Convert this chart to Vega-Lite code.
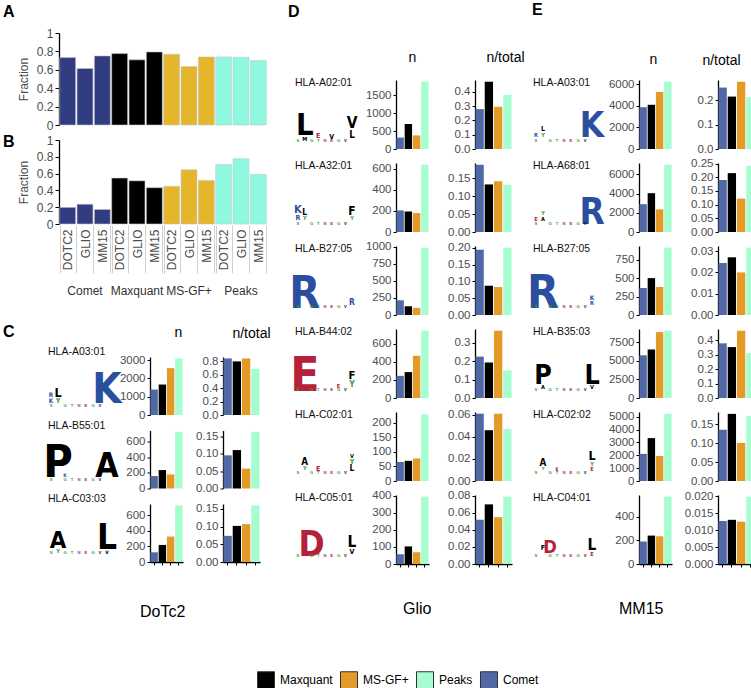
{
"$schema":"https://vega.github.io/schema/vega-lite/v6.json",
"padding":{"left":3,"top":2,"right":0,"bottom":0},
"background":"white",
"bounds":"flush",
"spacing":234,
"config":{
"view":{"stroke":null},
"font":"Liberation Sans",
"axis":{"domainColor":"#000","domainWidth":1.3,"tickColor":"#000","tickSize":3,"tickWidth":1,"labelColor":"#4d4d4d","labelFontSize":11.5,"labelFont":"Liberation Sans","labelPadding":2,"grid":false},
"scale":{"bandPaddingInner":0.1,"bandPaddingOuter":0.05},
"range":{"category":["#000000","#e39a26","#a6fdd0","#5069a5"]},
"title":{"font":"Liberation Sans","fontSize":14,"fontWeight":"normal","color":"#000"},
"legend":{"orient":"none","legendX":198,"legendY":638,"direction":"horizontal","symbolType":"square","symbolSize":289,"symbolStrokeColor":"#333","symbolStrokeWidth":1,"symbolOpacity":1,"labelFontSize":12,"labelColor":"#000","labelOffset":5,"columnPadding":5,"labelFont":"Liberation Sans"}
},
"datasets":{
"ab":[
{"p":"A","t":"Comet","s":"DOTC2","v":0.733},{"p":"A","t":"Comet","s":"GLIO","v":0.614},{"p":"A","t":"Comet","s":"MM15","v":0.751},
{"p":"A","t":"Maxquant","s":"DOTC2","v":0.776},{"p":"A","t":"Maxquant","s":"GLIO","v":0.708},{"p":"A","t":"Maxquant","s":"MM15","v":0.794},
{"p":"A","t":"MS-GF+","s":"DOTC2","v":0.769},{"p":"A","t":"MS-GF+","s":"GLIO","v":0.635},{"p":"A","t":"MS-GF+","s":"MM15","v":0.740},
{"p":"A","t":"Peaks","s":"DOTC2","v":0.740},{"p":"A","t":"Peaks","s":"GLIO","v":0.736},{"p":"A","t":"Peaks","s":"MM15","v":0.700},
{"p":"B","t":"Comet","s":"DOTC2","v":0.198},{"p":"B","t":"Comet","s":"GLIO","v":0.235},{"p":"B","t":"Comet","s":"MM15","v":0.173},
{"p":"B","t":"Maxquant","s":"DOTC2","v":0.547},{"p":"B","t":"Maxquant","s":"GLIO","v":0.514},{"p":"B","t":"Maxquant","s":"MM15","v":0.432},
{"p":"B","t":"MS-GF+","s":"DOTC2","v":0.449},{"p":"B","t":"MS-GF+","s":"GLIO","v":0.646},{"p":"B","t":"MS-GF+","s":"MM15","v":0.519},
{"p":"B","t":"Peaks","s":"DOTC2","v":0.708},{"p":"B","t":"Peaks","s":"GLIO","v":0.778},{"p":"B","t":"Peaks","s":"MM15","v":0.590}
],
"bars":[
{"g":"C1","m":"Comet","n":1390,"f":0.839},{"g":"C1","m":"Maxquant","n":1665,"f":0.795},{"g":"C1","m":"MS-GF+","n":2560,"f":0.839},{"g":"C1","m":"Peaks","n":3090,"f":0.682},
{"g":"C2","m":"Comet","n":159,"f":0.095},{"g":"C2","m":"Maxquant","n":236,"f":0.110},{"g":"C2","m":"MS-GF+","n":180,"f":0.057},{"g":"C2","m":"Peaks","n":724,"f":0.162},
{"g":"C3","m":"Comet","n":125,"f":0.074},{"g":"C3","m":"Maxquant","n":220,"f":0.102},{"g":"C3","m":"MS-GF+","n":328,"f":0.107},{"g":"C3","m":"Peaks","n":730,"f":0.160},
{"g":"D1","m":"Comet","n":320,"f":0.28},{"g":"D1","m":"Maxquant","n":700,"f":0.472},{"g":"D1","m":"MS-GF+","n":380,"f":0.296},{"g":"D1","m":"Peaks","n":1883,"f":0.38},
{"g":"D2","m":"Comet","n":205,"f":0.188},{"g":"D2","m":"Maxquant","n":195,"f":0.133},{"g":"D2","m":"MS-GF+","n":180,"f":0.142},{"g":"D2","m":"Peaks","n":640,"f":0.132},
{"g":"D3","m":"Comet","n":215,"f":0.194},{"g":"D3","m":"Maxquant","n":128,"f":0.087},{"g":"D3","m":"MS-GF+","n":105,"f":0.083},{"g":"D3","m":"Peaks","n":985,"f":0.200},
{"g":"D4","m":"Comet","n":245,"f":0.225},{"g":"D4","m":"Maxquant","n":287,"f":0.193},{"g":"D4","m":"MS-GF+","n":467,"f":0.366},{"g":"D4","m":"Peaks","n":745,"f":0.150},
{"g":"D5","m":"Comet","n":65,"f":0.061},{"g":"D5","m":"Maxquant","n":69,"f":0.046},{"g":"D5","m":"MS-GF+","n":77,"f":0.061},{"g":"D5","m":"Peaks","n":228,"f":0.047},
{"g":"D6","m":"Comet","n":57,"f":0.052},{"g":"D6","m":"Maxquant","n":103,"f":0.070},{"g":"D6","m":"MS-GF+","n":69,"f":0.055},{"g":"D6","m":"Peaks","n":394,"f":0.079},
{"g":"E1","m":"Comet","n":3885,"f":0.252},{"g":"E1","m":"Maxquant","n":4107,"f":0.215},{"g":"E1","m":"MS-GF+","n":5305,"f":0.276},{"g":"E1","m":"Peaks","n":6253,"f":0.213},
{"g":"E2","m":"Comet","n":2893,"f":0.190},{"g":"E2","m":"Maxquant","n":4036,"f":0.215},{"g":"E2","m":"MS-GF+","n":2357,"f":0.122},{"g":"E2","m":"Peaks","n":7000,"f":0.242},
{"g":"E3","m":"Comet","n":366,"f":0.0244},{"g":"E3","m":"Maxquant","n":500,"f":0.0271},{"g":"E3","m":"MS-GF+","n":380,"f":0.0200},{"g":"E3","m":"Peaks","n":912,"f":0.0316},
{"g":"E4","m":"Comet","n":5755,"f":0.378},{"g":"E4","m":"Maxquant","n":6538,"f":0.352},{"g":"E4","m":"MS-GF+","n":8886,"f":0.465},{"g":"E4","m":"Peaks","n":9070,"f":0.311},
{"g":"E5","m":"Comet","n":2107,"f":0.136},{"g":"E5","m":"Maxquant","n":3333,"f":0.178},{"g":"E5","m":"MS-GF+","n":1947,"f":0.101},{"g":"E5","m":"Peaks","n":5227,"f":0.172},
{"g":"E6","m":"Comet","n":190,"f":0.01266},{"g":"E6","m":"Maxquant","n":240,"f":0.0130},{"g":"E6","m":"MS-GF+","n":234,"f":0.01246},{"g":"E6","m":"Peaks","n":569,"f":0.0198}
],
"hla":[
{"g":"C1","hla":"HLA-A03:01"},{"g":"C2","hla":"HLA-B55:01"},{"g":"C3","hla":"HLA-C03:03"},
{"g":"D1","hla":"HLA-A02:01"},{"g":"D2","hla":"HLA-A32:01"},{"g":"D3","hla":"HLA-B27:05"},{"g":"D4","hla":"HLA-B44:02"},{"g":"D5","hla":"HLA-C02:01"},{"g":"D6","hla":"HLA-C05:01"},
{"g":"E1","hla":"HLA-A03:01"},{"g":"E2","hla":"HLA-A68:01"},{"g":"E3","hla":"HLA-B27:05"},{"g":"E4","hla":"HLA-B35:03"},{"g":"E5","hla":"HLA-C02:02"},{"g":"E6","hla":"HLA-C04:01"}
],
"logo":[
{"g":"C1","p":1,"l":"K","b":0.45,"y":0.35,"c":"basic"},{"g":"C1","p":1,"l":"R","b":0.45,"y":0.85,"c":"basic"},{"g":"C1","p":2,"l":"Y","b":0.5,"y":0.35,"c":"polar"},{"g":"C1","p":2,"l":"L","b":0.9,"y":0.85,"c":"hydrophobic"},{"g":"C1","p":9,"l":"K","b":3.0,"y":0.35,"c":"basic"},
{"g":"C2","p":1,"l":"R","b":0.35,"y":0.3,"c":"basic"},{"g":"C2","p":2,"l":"P","b":3.2,"y":0.3,"c":"hydrophobic"},{"g":"C2","p":3,"l":"K","b":0.35,"y":0.3,"c":"basic"},{"g":"C2","p":9,"l":"A","b":2.4,"y":0.3,"c":"hydrophobic"},
{"g":"C3","p":2,"l":"Y","b":0.4,"y":0.1,"c":"polar"},{"g":"C3","p":2,"l":"A","b":1.7,"y":0.5,"c":"hydrophobic"},{"g":"C3","p":9,"l":"V","b":0.35,"y":0.05,"c":"hydrophobic"},{"g":"C3","p":9,"l":"L","b":2.5,"y":0.45,"c":"hydrophobic"},
{"g":"D1","p":2,"l":"M","b":0.4,"y":0.1,"c":"hydrophobic"},{"g":"D1","p":2,"l":"L","b":2.2,"y":0.5,"c":"hydrophobic"},{"g":"D1","p":4,"l":"E","b":0.5,"y":0.3,"c":"acidic"},{"g":"D1","p":6,"l":"V","b":0.5,"y":0.25,"c":"hydrophobic"},{"g":"D1","p":9,"l":"L","b":0.7,"y":0.3,"c":"hydrophobic"},{"g":"D1","p":9,"l":"V","b":1.1,"y":1.05,"c":"hydrophobic"},
{"g":"D2","p":1,"l":"R","b":0.5,"y":0.35,"c":"basic"},{"g":"D2","p":1,"l":"K","b":0.8,"y":0.85,"c":"basic"},{"g":"D2","p":2,"l":"Y","b":0.4,"y":0.35,"c":"polar"},{"g":"D2","p":2,"l":"L","b":0.6,"y":0.75,"c":"hydrophobic"},{"g":"D2","p":9,"l":"Y","b":0.4,"y":0.35,"c":"polar"},{"g":"D2","p":9,"l":"F","b":0.85,"y":0.75,"c":"hydrophobic"},
{"g":"D3","p":1,"l":"G","b":0.35,"y":0.25,"c":"polar"},{"g":"D3","p":2,"l":"R","b":3.2,"y":0.0,"c":"basic"},{"g":"D3","p":9,"l":"R","b":0.6,"y":0.25,"c":"basic"},
{"g":"D4","p":1,"l":"A","b":0.4,"y":0.35,"c":"hydrophobic"},{"g":"D4","p":2,"l":"E","b":3.4,"y":0.0,"c":"acidic"},{"g":"D4","p":7,"l":"E","b":0.4,"y":0.25,"c":"acidic"},{"g":"D4","p":9,"l":"Y","b":0.6,"y":0.3,"c":"polar"},{"g":"D4","p":9,"l":"F","b":0.8,"y":0.9,"c":"hydrophobic"},
{"g":"D5","p":2,"l":"Y","b":0.4,"y":0.3,"c":"polar"},{"g":"D5","p":2,"l":"A","b":0.7,"y":0.65,"c":"hydrophobic"},{"g":"D5","p":4,"l":"E","b":0.5,"y":0.25,"c":"acidic"},{"g":"D5","p":9,"l":"L","b":0.6,"y":0.2,"c":"hydrophobic"},{"g":"D5","p":9,"l":"Y","b":0.5,"y":0.75,"c":"polar"},{"g":"D5","p":9,"l":"V","b":0.4,"y":1.2,"c":"hydrophobic"},
{"g":"D6","p":2,"l":"A","b":0.4,"y":0.3,"c":"hydrophobic"},{"g":"D6","p":2,"l":"L","b":0.6,"y":0.7,"c":"hydrophobic"},{"g":"D6","p":3,"l":"D","b":2.5,"y":0.1,"c":"acidic"},{"g":"D6","p":4,"l":"E","b":0.35,"y":0.25,"c":"acidic"},{"g":"D6","p":9,"l":"V","b":0.5,"y":0.2,"c":"hydrophobic"},{"g":"D6","p":9,"l":"L","b":1.1,"y":0.75,"c":"hydrophobic"},
{"g":"E1","p":1,"l":"R","b":0.4,"y":0.35,"c":"basic"},{"g":"E1","p":2,"l":"Y","b":0.4,"y":0.35,"c":"polar"},{"g":"E1","p":2,"l":"L","b":0.5,"y":0.8,"c":"hydrophobic"},{"g":"E1","p":9,"l":"K","b":2.5,"y":0.35,"c":"basic"},
{"g":"E2","p":1,"l":"E","b":0.4,"y":0.3,"c":"acidic"},{"g":"E2","p":2,"l":"A","b":0.4,"y":0.3,"c":"hydrophobic"},{"g":"E2","p":2,"l":"Y","b":0.4,"y":0.7,"c":"polar"},{"g":"E2","p":9,"l":"R","b":2.6,"y":0.1,"c":"basic"},
{"g":"E3","p":2,"l":"R","b":3.3,"y":0.0,"c":"basic"},{"g":"E3","p":9,"l":"R","b":0.4,"y":0.2,"c":"basic"},{"g":"E3","p":9,"l":"K","b":0.45,"y":0.6,"c":"basic"},
{"g":"E4","p":2,"l":"A","b":0.4,"y":0.15,"c":"hydrophobic"},{"g":"E4","p":2,"l":"P","b":1.9,"y":0.55,"c":"hydrophobic"},{"g":"E4","p":9,"l":"V","b":0.4,"y":0.15,"c":"hydrophobic"},{"g":"E4","p":9,"l":"L","b":1.9,"y":0.55,"c":"hydrophobic"},
{"g":"E5","p":2,"l":"Y","b":0.3,"y":0.3,"c":"polar"},{"g":"E5","p":2,"l":"A","b":0.7,"y":0.6,"c":"hydrophobic"},{"g":"E5","p":4,"l":"E","b":0.35,"y":0.25,"c":"acidic"},{"g":"E5","p":9,"l":"E","b":0.4,"y":0.2,"c":"acidic"},{"g":"E5","p":9,"l":"Y","b":0.4,"y":0.6,"c":"polar"},{"g":"E5","p":9,"l":"L","b":0.9,"y":1.0,"c":"hydrophobic"},
{"g":"E6","p":2,"l":"F","b":0.5,"y":0.5,"c":"hydrophobic"},{"g":"E6","p":3,"l":"D","b":1.3,"y":0.3,"c":"acidic"},{"g":"E6","p":9,"l":"E","b":0.4,"y":0.1,"c":"acidic"},{"g":"E6","p":9,"l":"L","b":1.1,"y":0.5,"c":"hydrophobic"}
],
"noise":[
{"p":1,"l":"S","b":0.3,"y":0,"c":"polar"},{"p":3,"l":"G","b":0.3,"y":0,"c":"polar"},{"p":4,"l":"T","b":0.3,"y":0,"c":"polar"},{"p":5,"l":"N","b":0.3,"y":0,"c":"amide"},{"p":6,"l":"E","b":0.3,"y":0,"c":"acidic"},{"p":7,"l":"G","b":0.3,"y":0,"c":"polar"},{"p":8,"l":"V","b":0.3,"y":0,"c":"hydrophobic"}
]
},
"hconcat":[
{"vconcat":[
 {"vconcat":[
  {"data":{"name":"ab"},"transform":[{"filter":"datum.p=='A'"}],
   "title":{"text":"A","anchor":"start","frame":"group","dx":-56,"fontSize":16,"fontWeight":"bold","offset":7},
   "facet":{"column":{"field":"t","type":"nominal","sort":["Comet","Maxquant","MS-GF+","Peaks"],"header":{"title":null,"labels":false}}},
   "spacing":0,
   "spec":{"width":52,"height":92,"mark":{"type":"bar","stroke":"#c8c8c8","strokeWidth":0.6},
    "encoding":{
     "x":{"field":"s","type":"nominal","sort":["DOTC2","GLIO","MM15"],"axis":null,"scale":{"paddingInner":0.08,"paddingOuter":0.04}},
     "y":{"field":"v","type":"quantitative","scale":{"domain":[0,1]},"axis":{"values":[0,0.2,0.4,0.6,0.8,1],"format":"~g","title":"Fraction","labelFontSize":12,"titleFontSize":12,"titleFontWeight":"normal","titleColor":"#4d4d4d","tickSize":4,"titlePadding":6}},
     "fill":{"field":"t","type":"nominal","scale":{"domain":["Comet","Maxquant","MS-GF+","Peaks","basic","acidic","hydrophobic","polar","amide"],"range":["#313d80","#000000","#e5b52b","#8ef8e0","#2b4f9f","#b5213a","#000000","#3a9a3a","#7b3f99"]},"legend":null}}}},
  {"data":{"name":"ab"},"transform":[{"filter":"datum.p=='B'"}],
   "title":{"text":"B","anchor":"start","frame":"group","dx":-56,"fontSize":16,"fontWeight":"bold","offset":-16},
   "facet":{"column":{"field":"t","type":"nominal","sort":["Comet","Maxquant","MS-GF+","Peaks"],"header":{"title":null,"labelOrient":"bottom","labelFontSize":12,"labelColor":"#333","labelPadding":12,"labelFont":"Liberation Sans"}}},
   "spacing":0,
   "spec":{"width":52,"height":84,"mark":{"type":"bar","stroke":"#c8c8c8","strokeWidth":0.6},
    "encoding":{
     "x":{"field":"s","type":"nominal","sort":["DOTC2","GLIO","MM15"],"title":null,"scale":{"paddingInner":0.08,"paddingOuter":0.04},"axis":{"labelAngle":270,"labelFontSize":12,"labelColor":"#4d4d4d","tickBand":"extent","tickSize":48,"tickColor":"#cfcfcf","tickWidth":1,"domain":false,"labelPadding":-44,"labelOverlap":false}},
     "y":{"field":"v","type":"quantitative","scale":{"domain":[0,1]},"axis":{"values":[0,0.2,0.4,0.6,0.8,1],"format":"~g","title":"Fraction","labelFontSize":12,"titleFontSize":12,"titleFontWeight":"normal","titleColor":"#4d4d4d","tickSize":4,"titlePadding":6}},
     "fill":{"field":"t","type":"nominal","scale":{"domain":["Comet","Maxquant","MS-GF+","Peaks","basic","acidic","hydrophobic","polar","amide"],"range":["#313d80","#000000","#e5b52b","#8ef8e0","#2b4f9f","#b5213a","#000000","#3a9a3a","#7b3f99"]},"legend":null}}}}
 ],"spacing":107,"bounds":"flush"},
 {"vconcat":[
  {"hconcat":[
   {"width":51,"height":58,"title":{"text":"C","anchor":"start","frame":"group","dx":-56,"fontSize":16,"fontWeight":"bold","offset":7},
    "layer":[
     {"data":{"name":"logo"},"transform":[{"filter":"datum.g=='C1'"}],"mark":{"type":"text","align":"center","baseline":"alphabetic","font":"Liberation Sans Narrow, DejaVu Sans Condensed, Liberation Sans","fontWeight":"bold"},
      "encoding":{"x":{"field":"p","type":"quantitative","scale":{"domain":[2.14,9.43],"nice":false,"zero":false},"axis":null},"y":{"field":"y","type":"quantitative","scale":{"domain":[-0.6,4],"nice":false,"zero":false},"axis":null},"text":{"field":"l"},
      "fill":{"field":"c","type":"nominal","scale":{"domain":["Comet","Maxquant","MS-GF+","Peaks","basic","acidic","hydrophobic","polar","amide"],"range":["#313d80","#000000","#e5b52b","#8ef8e0","#2b4f9f","#b5213a","#000000","#3a9a3a","#7b3f99"]},"legend":null},
      "size":{"field":"b","type":"quantitative","scale":{"domain":[0,4],"range":[0,56]},"legend":null}}},
     {"data":{"name":"noise"},"mark":{"type":"text","align":"center","baseline":"alphabetic","fontWeight":"bold"},
      "encoding":{"x":{"field":"p","type":"quantitative"},"y":{"field":"y","type":"quantitative"},"text":{"field":"l"},
      "fill":{"field":"c","type":"nominal","scale":{"domain":["Comet","Maxquant","MS-GF+","Peaks","basic","acidic","hydrophobic","polar","amide"],"range":["#313d80","#000000","#e5b52b","#8ef8e0","#2b4f9f","#b5213a","#000000","#3a9a3a","#7b3f99"]},"legend":null},
      "size":{"field":"b","type":"quantitative","scale":{"domain":[0,4],"range":[0,56]},"legend":null}}},
     {"data":{"name":"hla"},"transform":[{"filter":"datum.g=='C1'"}],"mark":{"type":"text","align":"left","baseline":"top","fontSize":10.5,"color":"#111"},
      "encoding":{"x":{"datum":0.57},"y":{"datum":4.79},"text":{"field":"hla"}}}
    ]},
   {"width":33,"height":58,"title":{"text":"n","offset":14,"frame":"group","dx":12},"data":{"name":"bars"},"transform":[{"filter":"datum.g=='C1'"}],"mark":"bar","encoding":{"x":{"field":"m","type":"nominal","sort":["Comet","Maxquant","MS-GF+","Peaks"],"axis":null},"y":{"field":"n","type":"quantitative","title":null,"scale":{"domain":[0,3170],"nice":false},"axis":{"values":[0,1000,2000,3000],"format":"d"}},"color":{"field":"m","type":"nominal","sort":["Maxquant","MS-GF+","Peaks","Comet"],"legend":{"title":null}}}},
   {"width":37,"height":58,"title":{"text":"n/total","offset":14,"frame":"group","dx":10},"data":{"name":"bars"},"transform":[{"filter":"datum.g=='C1'"}],"mark":"bar","encoding":{"x":{"field":"m","type":"nominal","sort":["Comet","Maxquant","MS-GF+","Peaks"],"axis":null},"y":{"field":"f","type":"quantitative","title":null,"scale":{"domain":[0,0.86],"nice":false},"axis":{"values":[0,0.2,0.4,0.6,0.8],"format":".1f"}},"color":{"field":"m","type":"nominal","sort":["Maxquant","MS-GF+","Peaks","Comet"],"legend":{"title":null}}}}
  ],"spacing":40,"bounds":"flush"},
  {"hconcat":[
   {"width":51,"height":58,
    "layer":[
     {"data":{"name":"logo"},"transform":[{"filter":"datum.g=='C2'"}],"mark":{"type":"text","align":"center","baseline":"alphabetic","font":"Liberation Sans Narrow, DejaVu Sans Condensed, Liberation Sans","fontWeight":"bold"},
      "encoding":{"x":{"field":"p","type":"quantitative","scale":{"domain":[2.14,9.43],"nice":false,"zero":false},"axis":null},"y":{"field":"y","type":"quantitative","scale":{"domain":[-0.6,4],"nice":false,"zero":false},"axis":null},"text":{"field":"l"},
      "fill":{"field":"c","type":"nominal","scale":{"domain":["Comet","Maxquant","MS-GF+","Peaks","basic","acidic","hydrophobic","polar","amide"],"range":["#313d80","#000000","#e5b52b","#8ef8e0","#2b4f9f","#b5213a","#000000","#3a9a3a","#7b3f99"]},"legend":null},
      "size":{"field":"b","type":"quantitative","scale":{"domain":[0,4],"range":[0,56]},"legend":null}}},
     {"data":{"name":"noise"},"mark":{"type":"text","align":"center","baseline":"alphabetic","fontWeight":"bold"},
      "encoding":{"x":{"field":"p","type":"quantitative"},"y":{"field":"y","type":"quantitative"},"text":{"field":"l"},
      "fill":{"field":"c","type":"nominal","scale":{"domain":["Comet","Maxquant","MS-GF+","Peaks","basic","acidic","hydrophobic","polar","amide"],"range":["#313d80","#000000","#e5b52b","#8ef8e0","#2b4f9f","#b5213a","#000000","#3a9a3a","#7b3f99"]},"legend":null},
      "size":{"field":"b","type":"quantitative","scale":{"domain":[0,4],"range":[0,56]},"legend":null}}},
     {"data":{"name":"hla"},"transform":[{"filter":"datum.g=='C2'"}],"mark":{"type":"text","align":"left","baseline":"top","fontSize":10.5,"color":"#111"},
      "encoding":{"x":{"datum":0.57},"y":{"datum":4.79},"text":{"field":"hla"}}}
    ]},
   {"width":33,"height":58,"data":{"name":"bars"},"transform":[{"filter":"datum.g=='C2'"}],"mark":"bar","encoding":{"x":{"field":"m","type":"nominal","sort":["Comet","Maxquant","MS-GF+","Peaks"],"axis":null},"y":{"field":"n","type":"quantitative","title":null,"scale":{"domain":[0,742],"nice":false},"axis":{"values":[0,200,400,600],"format":"d"}},"color":{"field":"m","type":"nominal","sort":["Maxquant","MS-GF+","Peaks","Comet"],"legend":{"title":null}}}},
   {"width":37,"height":58,"data":{"name":"bars"},"transform":[{"filter":"datum.g=='C2'"}],"mark":"bar","encoding":{"x":{"field":"m","type":"nominal","sort":["Comet","Maxquant","MS-GF+","Peaks"],"axis":null},"y":{"field":"f","type":"quantitative","title":null,"scale":{"domain":[0,0.166],"nice":false},"axis":{"values":[0,0.05,0.1,0.15],"format":".2f"}},"color":{"field":"m","type":"nominal","sort":["Maxquant","MS-GF+","Peaks","Comet"],"legend":{"title":null}}}}
  ],"spacing":40,"bounds":"flush"},
  {"hconcat":[
   {"width":51,"height":58,
    "layer":[
     {"data":{"name":"logo"},"transform":[{"filter":"datum.g=='C3'"}],"mark":{"type":"text","align":"center","baseline":"alphabetic","font":"Liberation Sans Narrow, DejaVu Sans Condensed, Liberation Sans","fontWeight":"bold"},
      "encoding":{"x":{"field":"p","type":"quantitative","scale":{"domain":[2.14,9.43],"nice":false,"zero":false},"axis":null},"y":{"field":"y","type":"quantitative","scale":{"domain":[-0.6,4],"nice":false,"zero":false},"axis":null},"text":{"field":"l"},
      "fill":{"field":"c","type":"nominal","scale":{"domain":["Comet","Maxquant","MS-GF+","Peaks","basic","acidic","hydrophobic","polar","amide"],"range":["#313d80","#000000","#e5b52b","#8ef8e0","#2b4f9f","#b5213a","#000000","#3a9a3a","#7b3f99"]},"legend":null},
      "size":{"field":"b","type":"quantitative","scale":{"domain":[0,4],"range":[0,56]},"legend":null}}},
     {"data":{"name":"noise"},"mark":{"type":"text","align":"center","baseline":"alphabetic","fontWeight":"bold"},
      "encoding":{"x":{"field":"p","type":"quantitative"},"y":{"field":"y","type":"quantitative"},"text":{"field":"l"},
      "fill":{"field":"c","type":"nominal","scale":{"domain":["Comet","Maxquant","MS-GF+","Peaks","basic","acidic","hydrophobic","polar","amide"],"range":["#313d80","#000000","#e5b52b","#8ef8e0","#2b4f9f","#b5213a","#000000","#3a9a3a","#7b3f99"]},"legend":null},
      "size":{"field":"b","type":"quantitative","scale":{"domain":[0,4],"range":[0,56]},"legend":null}}},
     {"data":{"name":"hla"},"transform":[{"filter":"datum.g=='C3'"}],"mark":{"type":"text","align":"left","baseline":"top","fontSize":10.5,"color":"#111"},
      "encoding":{"x":{"datum":0.57},"y":{"datum":4.79},"text":{"field":"hla"}}}
    ]},
   {"width":33,"height":58,"data":{"name":"bars"},"transform":[{"filter":"datum.g=='C3'"}],"mark":"bar","encoding":{"x":{"field":"m","type":"nominal","sort":["Comet","Maxquant","MS-GF+","Peaks"],"title":null,"axis":{"labels":false,"domain":true,"ticks":true}},"y":{"field":"n","type":"quantitative","title":null,"scale":{"domain":[0,748],"nice":false},"axis":{"values":[0,200,400,600],"format":"d"}},"color":{"field":"m","type":"nominal","sort":["Maxquant","MS-GF+","Peaks","Comet"],"legend":{"title":null}}}},
   {"width":37,"height":58,"data":{"name":"bars"},"transform":[{"filter":"datum.g=='C3'"}],"mark":"bar","encoding":{"x":{"field":"m","type":"nominal","sort":["Comet","Maxquant","MS-GF+","Peaks"],"title":null,"axis":{"labels":false,"domain":true,"ticks":true}},"y":{"field":"f","type":"quantitative","title":null,"scale":{"domain":[0,0.164],"nice":false},"axis":{"values":[0,0.05,0.1,0.15],"format":".2f"}},"color":{"field":"m","type":"nominal","sort":["Maxquant","MS-GF+","Peaks","Comet"],"legend":{"title":null}}}}
  ],"spacing":40,"bounds":"flush"}
 ],"spacing":73.5,"bounds":"flush","title":{"text":"DoTc2","orient":"bottom","anchor":"start","frame":"group","fontSize":16,"offset":36,"dx":81}}
],"spacing":324,"bounds":"flush"},
{"hconcat":[
 {"vconcat":[
  {"width":57,"height":33,"data":{"values":[]},"mark":"point"},
  {"vconcat":[
   {"hconcat":[
    {"width":57,"height":69,"layer":[
     {"data":{"name":"logo"},"transform":[{"filter":"datum.g=='D1'"}],"mark":{"type":"text","align":"center","baseline":"alphabetic","font":"Liberation Sans Narrow, DejaVu Sans Condensed, Liberation Sans","fontWeight":"bold"},
      "encoding":{"x":{"field":"p","type":"quantitative","scale":{"domain":[0.26,8.7],"nice":false,"zero":false},"axis":null},"y":{"field":"y","type":"quantitative","scale":{"domain":[-0.5,4.5],"nice":false,"zero":false},"axis":null},"text":{"field":"l"},
      "fill":{"field":"c","type":"nominal","scale":{"domain":["Comet","Maxquant","MS-GF+","Peaks","basic","acidic","hydrophobic","polar","amide"],"range":["#313d80","#000000","#e5b52b","#8ef8e0","#2b4f9f","#b5213a","#000000","#3a9a3a","#7b3f99"]},"legend":null},
      "size":{"field":"b","type":"quantitative","scale":{"domain":[0,4],"range":[0,56]},"legend":null}}},
     {"data":{"name":"noise"},"mark":{"type":"text","align":"center","baseline":"alphabetic","fontWeight":"bold"},
      "encoding":{"x":{"field":"p","type":"quantitative"},"y":{"field":"y","type":"quantitative"},"text":{"field":"l"},
      "fill":{"field":"c","type":"nominal","scale":{"domain":["Comet","Maxquant","MS-GF+","Peaks","basic","acidic","hydrophobic","polar","amide"],"range":["#313d80","#000000","#e5b52b","#8ef8e0","#2b4f9f","#b5213a","#000000","#3a9a3a","#7b3f99"]},"legend":null},
      "size":{"field":"b","type":"quantitative","scale":{"domain":[0,4],"range":[0,56]},"legend":null}}},
     {"data":{"name":"hla"},"transform":[{"filter":"datum.g=='D1'"}],"mark":{"type":"text","align":"left","baseline":"top","fontSize":10.5,"color":"#111"},"encoding":{"x":{"datum":0.556},"y":{"datum":4.64},"text":{"field":"hla"}}}]},
    {"width":33,"height":69,"title":{"text":"n","offset":15,"frame":"group"},"data":{"name":"bars"},"transform":[{"filter":"datum.g=='D1'"}],"mark":"bar","encoding":{"x":{"field":"m","type":"nominal","sort":["Comet","Maxquant","MS-GF+","Peaks"],"axis":null},"y":{"field":"n","type":"quantitative","title":null,"scale":{"domain":[0,1930],"nice":false},"axis":{"values":[0,500,1000,1500],"format":"d"}},"color":{"field":"m","type":"nominal","sort":["Maxquant","MS-GF+","Peaks","Comet"],"legend":{"title":null}}}},
    {"width":37,"height":69,"title":{"text":"n/total","offset":15,"frame":"group","dx":12},"data":{"name":"bars"},"transform":[{"filter":"datum.g=='D1'"}],"mark":"bar","encoding":{"x":{"field":"m","type":"nominal","sort":["Comet","Maxquant","MS-GF+","Peaks"],"axis":null},"y":{"field":"f","type":"quantitative","title":null,"scale":{"domain":[0,0.484],"nice":false},"axis":{"values":[0,0.1,0.2,0.3,0.4],"format":".1f"}},"color":{"field":"m","type":"nominal","sort":["Maxquant","MS-GF+","Peaks","Comet"],"legend":{"title":null}}}}
   ],"spacing":46,"bounds":"flush"},
   {"hconcat":[
    {"width":57,"height":69,"layer":[
     {"data":{"name":"logo"},"transform":[{"filter":"datum.g=='D2'"}],"mark":{"type":"text","align":"center","baseline":"alphabetic","font":"Liberation Sans Narrow, DejaVu Sans Condensed, Liberation Sans","fontWeight":"bold"},
      "encoding":{"x":{"field":"p","type":"quantitative","scale":{"domain":[0.26,8.7],"nice":false,"zero":false},"axis":null},"y":{"field":"y","type":"quantitative","scale":{"domain":[-0.5,4.5],"nice":false,"zero":false},"axis":null},"text":{"field":"l"},
      "fill":{"field":"c","type":"nominal","scale":{"domain":["Comet","Maxquant","MS-GF+","Peaks","basic","acidic","hydrophobic","polar","amide"],"range":["#313d80","#000000","#e5b52b","#8ef8e0","#2b4f9f","#b5213a","#000000","#3a9a3a","#7b3f99"]},"legend":null},
      "size":{"field":"b","type":"quantitative","scale":{"domain":[0,4],"range":[0,56]},"legend":null}}},
     {"data":{"name":"noise"},"mark":{"type":"text","align":"center","baseline":"alphabetic","fontWeight":"bold"},
      "encoding":{"x":{"field":"p","type":"quantitative"},"y":{"field":"y","type":"quantitative"},"text":{"field":"l"},
      "fill":{"field":"c","type":"nominal","scale":{"domain":["Comet","Maxquant","MS-GF+","Peaks","basic","acidic","hydrophobic","polar","amide"],"range":["#313d80","#000000","#e5b52b","#8ef8e0","#2b4f9f","#b5213a","#000000","#3a9a3a","#7b3f99"]},"legend":null},
      "size":{"field":"b","type":"quantitative","scale":{"domain":[0,4],"range":[0,56]},"legend":null}}},
     {"data":{"name":"hla"},"transform":[{"filter":"datum.g=='D2'"}],"mark":{"type":"text","align":"left","baseline":"top","fontSize":10.5,"color":"#111"},"encoding":{"x":{"datum":0.556},"y":{"datum":4.64},"text":{"field":"hla"}}}]},
    {"width":33,"height":69,"data":{"name":"bars"},"transform":[{"filter":"datum.g=='D2'"}],"mark":"bar","encoding":{"x":{"field":"m","type":"nominal","sort":["Comet","Maxquant","MS-GF+","Peaks"],"axis":null},"y":{"field":"n","type":"quantitative","title":null,"scale":{"domain":[0,656],"nice":false},"axis":{"values":[0,200,400,600],"format":"d"}},"color":{"field":"m","type":"nominal","sort":["Maxquant","MS-GF+","Peaks","Comet"],"legend":{"title":null}}}},
    {"width":37,"height":69,"data":{"name":"bars"},"transform":[{"filter":"datum.g=='D2'"}],"mark":"bar","encoding":{"x":{"field":"m","type":"nominal","sort":["Comet","Maxquant","MS-GF+","Peaks"],"axis":null},"y":{"field":"f","type":"quantitative","title":null,"scale":{"domain":[0,0.193],"nice":false},"axis":{"values":[0,0.05,0.1,0.15],"format":".2f"}},"color":{"field":"m","type":"nominal","sort":["Maxquant","MS-GF+","Peaks","Comet"],"legend":{"title":null}}}}
   ],"spacing":46,"bounds":"flush"},
   {"hconcat":[
    {"width":57,"height":69,"layer":[
     {"data":{"name":"logo"},"transform":[{"filter":"datum.g=='D3'"}],"mark":{"type":"text","align":"center","baseline":"alphabetic","font":"Liberation Sans Narrow, DejaVu Sans Condensed, Liberation Sans","fontWeight":"bold"},
      "encoding":{"x":{"field":"p","type":"quantitative","scale":{"domain":[0.26,8.7],"nice":false,"zero":false},"axis":null},"y":{"field":"y","type":"quantitative","scale":{"domain":[-0.5,4.5],"nice":false,"zero":false},"axis":null},"text":{"field":"l"},
      "fill":{"field":"c","type":"nominal","scale":{"domain":["Comet","Maxquant","MS-GF+","Peaks","basic","acidic","hydrophobic","polar","amide"],"range":["#313d80","#000000","#e5b52b","#8ef8e0","#2b4f9f","#b5213a","#000000","#3a9a3a","#7b3f99"]},"legend":null},
      "size":{"field":"b","type":"quantitative","scale":{"domain":[0,4],"range":[0,56]},"legend":null}}},
     {"data":{"name":"noise"},"mark":{"type":"text","align":"center","baseline":"alphabetic","fontWeight":"bold"},
      "encoding":{"x":{"field":"p","type":"quantitative"},"y":{"field":"y","type":"quantitative"},"text":{"field":"l"},
      "fill":{"field":"c","type":"nominal","scale":{"domain":["Comet","Maxquant","MS-GF+","Peaks","basic","acidic","hydrophobic","polar","amide"],"range":["#313d80","#000000","#e5b52b","#8ef8e0","#2b4f9f","#b5213a","#000000","#3a9a3a","#7b3f99"]},"legend":null},
      "size":{"field":"b","type":"quantitative","scale":{"domain":[0,4],"range":[0,56]},"legend":null}}},
     {"data":{"name":"hla"},"transform":[{"filter":"datum.g=='D3'"}],"mark":{"type":"text","align":"left","baseline":"top","fontSize":10.5,"color":"#111"},"encoding":{"x":{"datum":0.556},"y":{"datum":4.64},"text":{"field":"hla"}}}]},
    {"width":33,"height":69,"data":{"name":"bars"},"transform":[{"filter":"datum.g=='D3'"}],"mark":"bar","encoding":{"x":{"field":"m","type":"nominal","sort":["Comet","Maxquant","MS-GF+","Peaks"],"axis":null},"y":{"field":"n","type":"quantitative","title":null,"scale":{"domain":[0,1010],"nice":false},"axis":{"values":[0,250,500,750,1000],"format":"d"}},"color":{"field":"m","type":"nominal","sort":["Maxquant","MS-GF+","Peaks","Comet"],"legend":{"title":null}}}},
    {"width":37,"height":69,"data":{"name":"bars"},"transform":[{"filter":"datum.g=='D3'"}],"mark":"bar","encoding":{"x":{"field":"m","type":"nominal","sort":["Comet","Maxquant","MS-GF+","Peaks"],"axis":null},"y":{"field":"f","type":"quantitative","title":null,"scale":{"domain":[0,0.205],"nice":false},"axis":{"values":[0,0.05,0.1,0.15,0.2],"format":".2f"}},"color":{"field":"m","type":"nominal","sort":["Maxquant","MS-GF+","Peaks","Comet"],"legend":{"title":null}}}}
   ],"spacing":46,"bounds":"flush"},
   {"hconcat":[
    {"width":57,"height":69,"layer":[
     {"data":{"name":"logo"},"transform":[{"filter":"datum.g=='D4'"}],"mark":{"type":"text","align":"center","baseline":"alphabetic","font":"Liberation Sans Narrow, DejaVu Sans Condensed, Liberation Sans","fontWeight":"bold"},
      "encoding":{"x":{"field":"p","type":"quantitative","scale":{"domain":[0.26,8.7],"nice":false,"zero":false},"axis":null},"y":{"field":"y","type":"quantitative","scale":{"domain":[-0.5,4.5],"nice":false,"zero":false},"axis":null},"text":{"field":"l"},
      "fill":{"field":"c","type":"nominal","scale":{"domain":["Comet","Maxquant","MS-GF+","Peaks","basic","acidic","hydrophobic","polar","amide"],"range":["#313d80","#000000","#e5b52b","#8ef8e0","#2b4f9f","#b5213a","#000000","#3a9a3a","#7b3f99"]},"legend":null},
      "size":{"field":"b","type":"quantitative","scale":{"domain":[0,4],"range":[0,56]},"legend":null}}},
     {"data":{"name":"noise"},"mark":{"type":"text","align":"center","baseline":"alphabetic","fontWeight":"bold"},
      "encoding":{"x":{"field":"p","type":"quantitative"},"y":{"field":"y","type":"quantitative"},"text":{"field":"l"},
      "fill":{"field":"c","type":"nominal","scale":{"domain":["Comet","Maxquant","MS-GF+","Peaks","basic","acidic","hydrophobic","polar","amide"],"range":["#313d80","#000000","#e5b52b","#8ef8e0","#2b4f9f","#b5213a","#000000","#3a9a3a","#7b3f99"]},"legend":null},
      "size":{"field":"b","type":"quantitative","scale":{"domain":[0,4],"range":[0,56]},"legend":null}}},
     {"data":{"name":"hla"},"transform":[{"filter":"datum.g=='D4'"}],"mark":{"type":"text","align":"left","baseline":"top","fontSize":10.5,"color":"#111"},"encoding":{"x":{"datum":0.556},"y":{"datum":4.64},"text":{"field":"hla"}}}]},
    {"width":33,"height":69,"data":{"name":"bars"},"transform":[{"filter":"datum.g=='D4'"}],"mark":"bar","encoding":{"x":{"field":"m","type":"nominal","sort":["Comet","Maxquant","MS-GF+","Peaks"],"axis":null},"y":{"field":"n","type":"quantitative","title":null,"scale":{"domain":[0,764],"nice":false},"axis":{"values":[0,200,400,600],"format":"d"}},"color":{"field":"m","type":"nominal","sort":["Maxquant","MS-GF+","Peaks","Comet"],"legend":{"title":null}}}},
    {"width":37,"height":69,"data":{"name":"bars"},"transform":[{"filter":"datum.g=='D4'"}],"mark":"bar","encoding":{"x":{"field":"m","type":"nominal","sort":["Comet","Maxquant","MS-GF+","Peaks"],"axis":null},"y":{"field":"f","type":"quantitative","title":null,"scale":{"domain":[0,0.375],"nice":false},"axis":{"values":[0,0.1,0.2,0.3],"format":".1f"}},"color":{"field":"m","type":"nominal","sort":["Maxquant","MS-GF+","Peaks","Comet"],"legend":{"title":null}}}}
   ],"spacing":46,"bounds":"flush"},
   {"hconcat":[
    {"width":57,"height":69,"layer":[
     {"data":{"name":"logo"},"transform":[{"filter":"datum.g=='D5'"}],"mark":{"type":"text","align":"center","baseline":"alphabetic","font":"Liberation Sans Narrow, DejaVu Sans Condensed, Liberation Sans","fontWeight":"bold"},
      "encoding":{"x":{"field":"p","type":"quantitative","scale":{"domain":[0.26,8.7],"nice":false,"zero":false},"axis":null},"y":{"field":"y","type":"quantitative","scale":{"domain":[-0.5,4.5],"nice":false,"zero":false},"axis":null},"text":{"field":"l"},
      "fill":{"field":"c","type":"nominal","scale":{"domain":["Comet","Maxquant","MS-GF+","Peaks","basic","acidic","hydrophobic","polar","amide"],"range":["#313d80","#000000","#e5b52b","#8ef8e0","#2b4f9f","#b5213a","#000000","#3a9a3a","#7b3f99"]},"legend":null},
      "size":{"field":"b","type":"quantitative","scale":{"domain":[0,4],"range":[0,56]},"legend":null}}},
     {"data":{"name":"noise"},"mark":{"type":"text","align":"center","baseline":"alphabetic","fontWeight":"bold"},
      "encoding":{"x":{"field":"p","type":"quantitative"},"y":{"field":"y","type":"quantitative"},"text":{"field":"l"},
      "fill":{"field":"c","type":"nominal","scale":{"domain":["Comet","Maxquant","MS-GF+","Peaks","basic","acidic","hydrophobic","polar","amide"],"range":["#313d80","#000000","#e5b52b","#8ef8e0","#2b4f9f","#b5213a","#000000","#3a9a3a","#7b3f99"]},"legend":null},
      "size":{"field":"b","type":"quantitative","scale":{"domain":[0,4],"range":[0,56]},"legend":null}}},
     {"data":{"name":"hla"},"transform":[{"filter":"datum.g=='D5'"}],"mark":{"type":"text","align":"left","baseline":"top","fontSize":10.5,"color":"#111"},"encoding":{"x":{"datum":0.556},"y":{"datum":4.64},"text":{"field":"hla"}}}]},
    {"width":33,"height":69,"data":{"name":"bars"},"transform":[{"filter":"datum.g=='D5'"}],"mark":"bar","encoding":{"x":{"field":"m","type":"nominal","sort":["Comet","Maxquant","MS-GF+","Peaks"],"axis":null},"y":{"field":"n","type":"quantitative","title":null,"scale":{"domain":[0,236],"nice":false},"axis":{"values":[0,50,100,150,200],"format":"d"}},"color":{"field":"m","type":"nominal","sort":["Maxquant","MS-GF+","Peaks","Comet"],"legend":{"title":null}}}},
    {"width":37,"height":69,"data":{"name":"bars"},"transform":[{"filter":"datum.g=='D5'"}],"mark":"bar","encoding":{"x":{"field":"m","type":"nominal","sort":["Comet","Maxquant","MS-GF+","Peaks"],"axis":null},"y":{"field":"f","type":"quantitative","title":null,"scale":{"domain":[0,0.0625],"nice":false},"axis":{"values":[0,0.02,0.04,0.06],"format":".2f"}},"color":{"field":"m","type":"nominal","sort":["Maxquant","MS-GF+","Peaks","Comet"],"legend":{"title":null}}}}
   ],"spacing":46,"bounds":"flush"},
   {"hconcat":[
    {"width":57,"height":69,"layer":[
     {"data":{"name":"logo"},"transform":[{"filter":"datum.g=='D6'"}],"mark":{"type":"text","align":"center","baseline":"alphabetic","font":"Liberation Sans Narrow, DejaVu Sans Condensed, Liberation Sans","fontWeight":"bold"},
      "encoding":{"x":{"field":"p","type":"quantitative","scale":{"domain":[0.26,8.7],"nice":false,"zero":false},"axis":null},"y":{"field":"y","type":"quantitative","scale":{"domain":[-0.5,4.5],"nice":false,"zero":false},"axis":null},"text":{"field":"l"},
      "fill":{"field":"c","type":"nominal","scale":{"domain":["Comet","Maxquant","MS-GF+","Peaks","basic","acidic","hydrophobic","polar","amide"],"range":["#313d80","#000000","#e5b52b","#8ef8e0","#2b4f9f","#b5213a","#000000","#3a9a3a","#7b3f99"]},"legend":null},
      "size":{"field":"b","type":"quantitative","scale":{"domain":[0,4],"range":[0,56]},"legend":null}}},
     {"data":{"name":"noise"},"mark":{"type":"text","align":"center","baseline":"alphabetic","fontWeight":"bold"},
      "encoding":{"x":{"field":"p","type":"quantitative"},"y":{"field":"y","type":"quantitative"},"text":{"field":"l"},
      "fill":{"field":"c","type":"nominal","scale":{"domain":["Comet","Maxquant","MS-GF+","Peaks","basic","acidic","hydrophobic","polar","amide"],"range":["#313d80","#000000","#e5b52b","#8ef8e0","#2b4f9f","#b5213a","#000000","#3a9a3a","#7b3f99"]},"legend":null},
      "size":{"field":"b","type":"quantitative","scale":{"domain":[0,4],"range":[0,56]},"legend":null}}},
     {"data":{"name":"hla"},"transform":[{"filter":"datum.g=='D6'"}],"mark":{"type":"text","align":"left","baseline":"top","fontSize":10.5,"color":"#111"},"encoding":{"x":{"datum":0.556},"y":{"datum":4.64},"text":{"field":"hla"}}}]},
    {"width":33,"height":69,"data":{"name":"bars"},"transform":[{"filter":"datum.g=='D6'"}],"mark":"bar","encoding":{"x":{"field":"m","type":"nominal","sort":["Comet","Maxquant","MS-GF+","Peaks"],"title":null,"axis":{"labels":false,"domain":true,"ticks":true}},"y":{"field":"n","type":"quantitative","title":null,"scale":{"domain":[0,404],"nice":false},"axis":{"values":[0,100,200,300,400],"format":"d"}},"color":{"field":"m","type":"nominal","sort":["Maxquant","MS-GF+","Peaks","Comet"],"legend":{"title":null}}}},
    {"width":37,"height":69,"data":{"name":"bars"},"transform":[{"filter":"datum.g=='D6'"}],"mark":"bar","encoding":{"x":{"field":"m","type":"nominal","sort":["Comet","Maxquant","MS-GF+","Peaks"],"title":null,"axis":{"labels":false,"domain":true,"ticks":true}},"y":{"field":"f","type":"quantitative","title":null,"scale":{"domain":[0,0.081],"nice":false},"axis":{"values":[0,0.02,0.04,0.06,0.08],"format":".2f"}},"color":{"field":"m","type":"nominal","sort":["Maxquant","MS-GF+","Peaks","Comet"],"legend":{"title":null}}}}
   ],"spacing":46,"bounds":"flush"}
  ],"spacing":83,"bounds":"flush","title":{"text":"Glio","orient":"bottom","anchor":"start","frame":"group","fontSize":16,"offset":31,"dx":110}}
 ],"spacing":14,"bounds":"flush","title":{"text":"D","anchor":"start","frame":"group","dx":-5,"fontSize":16,"fontWeight":"bold","offset":13}},
 {"vconcat":[
  {"width":60,"height":33,"data":{"values":[]},"mark":"point"},
  {"vconcat":[
   {"hconcat":[
    {"width":60,"height":69,"layer":[
     {"data":{"name":"logo"},"transform":[{"filter":"datum.g=='E1'"}],"mark":{"type":"text","align":"center","baseline":"alphabetic","font":"Liberation Sans Narrow, DejaVu Sans Condensed, Liberation Sans","fontWeight":"bold"},
      "encoding":{"x":{"field":"p","type":"quantitative","scale":{"domain":[0.571,9.14],"nice":false,"zero":false},"axis":null},"y":{"field":"y","type":"quantitative","scale":{"domain":[-0.5,4.5],"nice":false,"zero":false},"axis":null},"text":{"field":"l"},
      "fill":{"field":"c","type":"nominal","scale":{"domain":["Comet","Maxquant","MS-GF+","Peaks","basic","acidic","hydrophobic","polar","amide"],"range":["#313d80","#000000","#e5b52b","#8ef8e0","#2b4f9f","#b5213a","#000000","#3a9a3a","#7b3f99"]},"legend":null},
      "size":{"field":"b","type":"quantitative","scale":{"domain":[0,4],"range":[0,56]},"legend":null}}},
     {"data":{"name":"noise"},"mark":{"type":"text","align":"center","baseline":"alphabetic","fontWeight":"bold"},
      "encoding":{"x":{"field":"p","type":"quantitative"},"y":{"field":"y","type":"quantitative"},"text":{"field":"l"},
      "fill":{"field":"c","type":"nominal","scale":{"domain":["Comet","Maxquant","MS-GF+","Peaks","basic","acidic","hydrophobic","polar","amide"],"range":["#313d80","#000000","#e5b52b","#8ef8e0","#2b4f9f","#b5213a","#000000","#3a9a3a","#7b3f99"]},"legend":null},
      "size":{"field":"b","type":"quantitative","scale":{"domain":[0,4],"range":[0,56]},"legend":null}}},
     {"data":{"name":"hla"},"transform":[{"filter":"datum.g=='E1'"}],"mark":{"type":"text","align":"left","baseline":"top","fontSize":10.5,"color":"#111"},"encoding":{"x":{"datum":0.571},"y":{"datum":4.64},"text":{"field":"hla"}}}]},
    {"width":33,"height":69,"title":{"text":"n","offset":11,"frame":"group","dx":-2},"data":{"name":"bars"},"transform":[{"filter":"datum.g=='E1'"}],"mark":"bar","encoding":{"x":{"field":"m","type":"nominal","sort":["Comet","Maxquant","MS-GF+","Peaks"],"axis":null},"y":{"field":"n","type":"quantitative","title":null,"scale":{"domain":[0,6410],"nice":false},"axis":{"values":[0,2000,4000,6000],"format":"d"}},"color":{"field":"m","type":"nominal","sort":["Maxquant","MS-GF+","Peaks","Comet"],"legend":{"title":null}}}},
    {"width":37,"height":69,"title":{"text":"n/total","offset":12,"frame":"group","dx":-15},"data":{"name":"bars"},"transform":[{"filter":"datum.g=='E1'"}],"mark":"bar","encoding":{"x":{"field":"m","type":"nominal","sort":["Comet","Maxquant","MS-GF+","Peaks"],"axis":null},"y":{"field":"f","type":"quantitative","title":null,"scale":{"domain":[0,0.283],"nice":false},"axis":{"values":[0,0.1,0.2],"format":".1f"}},"color":{"field":"m","type":"nominal","sort":["Maxquant","MS-GF+","Peaks","Comet"],"legend":{"title":null}}}}
   ],"spacing":46,"bounds":"flush"},
   {"hconcat":[
    {"width":60,"height":69,"layer":[
     {"data":{"name":"logo"},"transform":[{"filter":"datum.g=='E2'"}],"mark":{"type":"text","align":"center","baseline":"alphabetic","font":"Liberation Sans Narrow, DejaVu Sans Condensed, Liberation Sans","fontWeight":"bold"},
      "encoding":{"x":{"field":"p","type":"quantitative","scale":{"domain":[0.571,9.14],"nice":false,"zero":false},"axis":null},"y":{"field":"y","type":"quantitative","scale":{"domain":[-0.5,4.5],"nice":false,"zero":false},"axis":null},"text":{"field":"l"},
      "fill":{"field":"c","type":"nominal","scale":{"domain":["Comet","Maxquant","MS-GF+","Peaks","basic","acidic","hydrophobic","polar","amide"],"range":["#313d80","#000000","#e5b52b","#8ef8e0","#2b4f9f","#b5213a","#000000","#3a9a3a","#7b3f99"]},"legend":null},
      "size":{"field":"b","type":"quantitative","scale":{"domain":[0,4],"range":[0,56]},"legend":null}}},
     {"data":{"name":"noise"},"mark":{"type":"text","align":"center","baseline":"alphabetic","fontWeight":"bold"},
      "encoding":{"x":{"field":"p","type":"quantitative"},"y":{"field":"y","type":"quantitative"},"text":{"field":"l"},
      "fill":{"field":"c","type":"nominal","scale":{"domain":["Comet","Maxquant","MS-GF+","Peaks","basic","acidic","hydrophobic","polar","amide"],"range":["#313d80","#000000","#e5b52b","#8ef8e0","#2b4f9f","#b5213a","#000000","#3a9a3a","#7b3f99"]},"legend":null},
      "size":{"field":"b","type":"quantitative","scale":{"domain":[0,4],"range":[0,56]},"legend":null}}},
     {"data":{"name":"hla"},"transform":[{"filter":"datum.g=='E2'"}],"mark":{"type":"text","align":"left","baseline":"top","fontSize":10.5,"color":"#111"},"encoding":{"x":{"datum":0.571},"y":{"datum":4.64},"text":{"field":"hla"}}}]},
    {"width":33,"height":69,"data":{"name":"bars"},"transform":[{"filter":"datum.g=='E2'"}],"mark":"bar","encoding":{"x":{"field":"m","type":"nominal","sort":["Comet","Maxquant","MS-GF+","Peaks"],"axis":null},"y":{"field":"n","type":"quantitative","title":null,"scale":{"domain":[0,7175],"nice":false},"axis":{"values":[0,2000,4000,6000],"format":"d"}},"color":{"field":"m","type":"nominal","sort":["Maxquant","MS-GF+","Peaks","Comet"],"legend":{"title":null}}}},
    {"width":37,"height":69,"data":{"name":"bars"},"transform":[{"filter":"datum.g=='E2'"}],"mark":"bar","encoding":{"x":{"field":"m","type":"nominal","sort":["Comet","Maxquant","MS-GF+","Peaks"],"axis":null},"y":{"field":"f","type":"quantitative","title":null,"scale":{"domain":[0,0.252],"nice":false},"axis":{"values":[0,0.05,0.1,0.15,0.2,0.25],"format":".2f"}},"color":{"field":"m","type":"nominal","sort":["Maxquant","MS-GF+","Peaks","Comet"],"legend":{"title":null}}}}
   ],"spacing":46,"bounds":"flush"},
   {"hconcat":[
    {"width":60,"height":69,"layer":[
     {"data":{"name":"logo"},"transform":[{"filter":"datum.g=='E3'"}],"mark":{"type":"text","align":"center","baseline":"alphabetic","font":"Liberation Sans Narrow, DejaVu Sans Condensed, Liberation Sans","fontWeight":"bold"},
      "encoding":{"x":{"field":"p","type":"quantitative","scale":{"domain":[0.571,9.14],"nice":false,"zero":false},"axis":null},"y":{"field":"y","type":"quantitative","scale":{"domain":[-0.5,4.5],"nice":false,"zero":false},"axis":null},"text":{"field":"l"},
      "fill":{"field":"c","type":"nominal","scale":{"domain":["Comet","Maxquant","MS-GF+","Peaks","basic","acidic","hydrophobic","polar","amide"],"range":["#313d80","#000000","#e5b52b","#8ef8e0","#2b4f9f","#b5213a","#000000","#3a9a3a","#7b3f99"]},"legend":null},
      "size":{"field":"b","type":"quantitative","scale":{"domain":[0,4],"range":[0,56]},"legend":null}}},
     {"data":{"name":"noise"},"mark":{"type":"text","align":"center","baseline":"alphabetic","fontWeight":"bold"},
      "encoding":{"x":{"field":"p","type":"quantitative"},"y":{"field":"y","type":"quantitative"},"text":{"field":"l"},
      "fill":{"field":"c","type":"nominal","scale":{"domain":["Comet","Maxquant","MS-GF+","Peaks","basic","acidic","hydrophobic","polar","amide"],"range":["#313d80","#000000","#e5b52b","#8ef8e0","#2b4f9f","#b5213a","#000000","#3a9a3a","#7b3f99"]},"legend":null},
      "size":{"field":"b","type":"quantitative","scale":{"domain":[0,4],"range":[0,56]},"legend":null}}},
     {"data":{"name":"hla"},"transform":[{"filter":"datum.g=='E3'"}],"mark":{"type":"text","align":"left","baseline":"top","fontSize":10.5,"color":"#111"},"encoding":{"x":{"datum":0.571},"y":{"datum":4.64},"text":{"field":"hla"}}}]},
    {"width":33,"height":69,"data":{"name":"bars"},"transform":[{"filter":"datum.g=='E3'"}],"mark":"bar","encoding":{"x":{"field":"m","type":"nominal","sort":["Comet","Maxquant","MS-GF+","Peaks"],"axis":null},"y":{"field":"n","type":"quantitative","title":null,"scale":{"domain":[0,935],"nice":false},"axis":{"values":[0,250,500,750],"format":"d"}},"color":{"field":"m","type":"nominal","sort":["Maxquant","MS-GF+","Peaks","Comet"],"legend":{"title":null}}}},
    {"width":37,"height":69,"data":{"name":"bars"},"transform":[{"filter":"datum.g=='E3'"}],"mark":"bar","encoding":{"x":{"field":"m","type":"nominal","sort":["Comet","Maxquant","MS-GF+","Peaks"],"axis":null},"y":{"field":"f","type":"quantitative","title":null,"scale":{"domain":[0,0.0324],"nice":false},"axis":{"values":[0,0.01,0.02,0.03],"format":".2f"}},"color":{"field":"m","type":"nominal","sort":["Maxquant","MS-GF+","Peaks","Comet"],"legend":{"title":null}}}}
   ],"spacing":46,"bounds":"flush"},
   {"hconcat":[
    {"width":60,"height":69,"layer":[
     {"data":{"name":"logo"},"transform":[{"filter":"datum.g=='E4'"}],"mark":{"type":"text","align":"center","baseline":"alphabetic","font":"Liberation Sans Narrow, DejaVu Sans Condensed, Liberation Sans","fontWeight":"bold"},
      "encoding":{"x":{"field":"p","type":"quantitative","scale":{"domain":[0.571,9.14],"nice":false,"zero":false},"axis":null},"y":{"field":"y","type":"quantitative","scale":{"domain":[-0.5,4.5],"nice":false,"zero":false},"axis":null},"text":{"field":"l"},
      "fill":{"field":"c","type":"nominal","scale":{"domain":["Comet","Maxquant","MS-GF+","Peaks","basic","acidic","hydrophobic","polar","amide"],"range":["#313d80","#000000","#e5b52b","#8ef8e0","#2b4f9f","#b5213a","#000000","#3a9a3a","#7b3f99"]},"legend":null},
      "size":{"field":"b","type":"quantitative","scale":{"domain":[0,4],"range":[0,56]},"legend":null}}},
     {"data":{"name":"noise"},"mark":{"type":"text","align":"center","baseline":"alphabetic","fontWeight":"bold"},
      "encoding":{"x":{"field":"p","type":"quantitative"},"y":{"field":"y","type":"quantitative"},"text":{"field":"l"},
      "fill":{"field":"c","type":"nominal","scale":{"domain":["Comet","Maxquant","MS-GF+","Peaks","basic","acidic","hydrophobic","polar","amide"],"range":["#313d80","#000000","#e5b52b","#8ef8e0","#2b4f9f","#b5213a","#000000","#3a9a3a","#7b3f99"]},"legend":null},
      "size":{"field":"b","type":"quantitative","scale":{"domain":[0,4],"range":[0,56]},"legend":null}}},
     {"data":{"name":"hla"},"transform":[{"filter":"datum.g=='E4'"}],"mark":{"type":"text","align":"left","baseline":"top","fontSize":10.5,"color":"#111"},"encoding":{"x":{"datum":0.571},"y":{"datum":4.64},"text":{"field":"hla"}}}]},
    {"width":33,"height":69,"data":{"name":"bars"},"transform":[{"filter":"datum.g=='E4'"}],"mark":"bar","encoding":{"x":{"field":"m","type":"nominal","sort":["Comet","Maxquant","MS-GF+","Peaks"],"axis":null},"y":{"field":"n","type":"quantitative","title":null,"scale":{"domain":[0,9300],"nice":false},"axis":{"values":[0,2500,5000,7500],"format":"d"}},"color":{"field":"m","type":"nominal","sort":["Maxquant","MS-GF+","Peaks","Comet"],"legend":{"title":null}}}},
    {"width":37,"height":69,"data":{"name":"bars"},"transform":[{"filter":"datum.g=='E4'"}],"mark":"bar","encoding":{"x":{"field":"m","type":"nominal","sort":["Comet","Maxquant","MS-GF+","Peaks"],"axis":null},"y":{"field":"f","type":"quantitative","title":null,"scale":{"domain":[0,0.477],"nice":false},"axis":{"values":[0,0.1,0.2,0.3,0.4],"format":".1f"}},"color":{"field":"m","type":"nominal","sort":["Maxquant","MS-GF+","Peaks","Comet"],"legend":{"title":null}}}}
   ],"spacing":46,"bounds":"flush"},
   {"hconcat":[
    {"width":60,"height":69,"layer":[
     {"data":{"name":"logo"},"transform":[{"filter":"datum.g=='E5'"}],"mark":{"type":"text","align":"center","baseline":"alphabetic","font":"Liberation Sans Narrow, DejaVu Sans Condensed, Liberation Sans","fontWeight":"bold"},
      "encoding":{"x":{"field":"p","type":"quantitative","scale":{"domain":[0.571,9.14],"nice":false,"zero":false},"axis":null},"y":{"field":"y","type":"quantitative","scale":{"domain":[-0.5,4.5],"nice":false,"zero":false},"axis":null},"text":{"field":"l"},
      "fill":{"field":"c","type":"nominal","scale":{"domain":["Comet","Maxquant","MS-GF+","Peaks","basic","acidic","hydrophobic","polar","amide"],"range":["#313d80","#000000","#e5b52b","#8ef8e0","#2b4f9f","#b5213a","#000000","#3a9a3a","#7b3f99"]},"legend":null},
      "size":{"field":"b","type":"quantitative","scale":{"domain":[0,4],"range":[0,56]},"legend":null}}},
     {"data":{"name":"noise"},"mark":{"type":"text","align":"center","baseline":"alphabetic","fontWeight":"bold"},
      "encoding":{"x":{"field":"p","type":"quantitative"},"y":{"field":"y","type":"quantitative"},"text":{"field":"l"},
      "fill":{"field":"c","type":"nominal","scale":{"domain":["Comet","Maxquant","MS-GF+","Peaks","basic","acidic","hydrophobic","polar","amide"],"range":["#313d80","#000000","#e5b52b","#8ef8e0","#2b4f9f","#b5213a","#000000","#3a9a3a","#7b3f99"]},"legend":null},
      "size":{"field":"b","type":"quantitative","scale":{"domain":[0,4],"range":[0,56]},"legend":null}}},
     {"data":{"name":"hla"},"transform":[{"filter":"datum.g=='E5'"}],"mark":{"type":"text","align":"left","baseline":"top","fontSize":10.5,"color":"#111"},"encoding":{"x":{"datum":0.571},"y":{"datum":4.64},"text":{"field":"hla"}}}]},
    {"width":33,"height":69,"data":{"name":"bars"},"transform":[{"filter":"datum.g=='E5'"}],"mark":"bar","encoding":{"x":{"field":"m","type":"nominal","sort":["Comet","Maxquant","MS-GF+","Peaks"],"axis":null},"y":{"field":"n","type":"quantitative","title":null,"scale":{"domain":[0,5360],"nice":false},"axis":{"values":[0,1000,2000,3000,4000,5000],"format":"d"}},"color":{"field":"m","type":"nominal","sort":["Maxquant","MS-GF+","Peaks","Comet"],"legend":{"title":null}}}},
    {"width":37,"height":69,"data":{"name":"bars"},"transform":[{"filter":"datum.g=='E5'"}],"mark":"bar","encoding":{"x":{"field":"m","type":"nominal","sort":["Comet","Maxquant","MS-GF+","Peaks"],"axis":null},"y":{"field":"f","type":"quantitative","title":null,"scale":{"domain":[0,0.183],"nice":false},"axis":{"values":[0,0.05,0.1,0.15],"format":".2f"}},"color":{"field":"m","type":"nominal","sort":["Maxquant","MS-GF+","Peaks","Comet"],"legend":{"title":null}}}}
   ],"spacing":46,"bounds":"flush"},
   {"hconcat":[
    {"width":60,"height":69,"layer":[
     {"data":{"name":"logo"},"transform":[{"filter":"datum.g=='E6'"}],"mark":{"type":"text","align":"center","baseline":"alphabetic","font":"Liberation Sans Narrow, DejaVu Sans Condensed, Liberation Sans","fontWeight":"bold"},
      "encoding":{"x":{"field":"p","type":"quantitative","scale":{"domain":[0.571,9.14],"nice":false,"zero":false},"axis":null},"y":{"field":"y","type":"quantitative","scale":{"domain":[-0.5,4.5],"nice":false,"zero":false},"axis":null},"text":{"field":"l"},
      "fill":{"field":"c","type":"nominal","scale":{"domain":["Comet","Maxquant","MS-GF+","Peaks","basic","acidic","hydrophobic","polar","amide"],"range":["#313d80","#000000","#e5b52b","#8ef8e0","#2b4f9f","#b5213a","#000000","#3a9a3a","#7b3f99"]},"legend":null},
      "size":{"field":"b","type":"quantitative","scale":{"domain":[0,4],"range":[0,56]},"legend":null}}},
     {"data":{"name":"noise"},"mark":{"type":"text","align":"center","baseline":"alphabetic","fontWeight":"bold"},
      "encoding":{"x":{"field":"p","type":"quantitative"},"y":{"field":"y","type":"quantitative"},"text":{"field":"l"},
      "fill":{"field":"c","type":"nominal","scale":{"domain":["Comet","Maxquant","MS-GF+","Peaks","basic","acidic","hydrophobic","polar","amide"],"range":["#313d80","#000000","#e5b52b","#8ef8e0","#2b4f9f","#b5213a","#000000","#3a9a3a","#7b3f99"]},"legend":null},
      "size":{"field":"b","type":"quantitative","scale":{"domain":[0,4],"range":[0,56]},"legend":null}}},
     {"data":{"name":"hla"},"transform":[{"filter":"datum.g=='E6'"}],"mark":{"type":"text","align":"left","baseline":"top","fontSize":10.5,"color":"#111"},"encoding":{"x":{"datum":0.571},"y":{"datum":4.64},"text":{"field":"hla"}}}]},
    {"width":33,"height":69,"data":{"name":"bars"},"transform":[{"filter":"datum.g=='E6'"}],"mark":"bar","encoding":{"x":{"field":"m","type":"nominal","sort":["Comet","Maxquant","MS-GF+","Peaks"],"title":null,"axis":{"labels":false,"domain":true,"ticks":true}},"y":{"field":"n","type":"quantitative","title":null,"scale":{"domain":[0,583],"nice":false},"axis":{"values":[0,200,400],"format":"d"}},"color":{"field":"m","type":"nominal","sort":["Maxquant","MS-GF+","Peaks","Comet"],"legend":{"title":null}}}},
    {"width":37,"height":69,"data":{"name":"bars"},"transform":[{"filter":"datum.g=='E6'"}],"mark":"bar","encoding":{"x":{"field":"m","type":"nominal","sort":["Comet","Maxquant","MS-GF+","Peaks"],"title":null,"axis":{"labels":false,"domain":true,"ticks":true}},"y":{"field":"f","type":"quantitative","title":null,"scale":{"domain":[0,0.0203],"nice":false},"axis":{"values":[0,0.005,0.01,0.015,0.02],"format":".3f"}},"color":{"field":"m","type":"nominal","sort":["Maxquant","MS-GF+","Peaks","Comet"],"legend":{"title":null}}}}
   ],"spacing":46,"bounds":"flush"}
  ],"spacing":83,"bounds":"flush","title":{"text":"MM15","orient":"bottom","anchor":"start","frame":"group","fontSize":16,"offset":31,"dx":86}}
 ],"spacing":14,"bounds":"flush","title":{"text":"E","anchor":"start","frame":"group","dx":-1,"fontSize":16,"fontWeight":"bold","offset":15}}
],"spacing":240,"bounds":"flush"}
]
}
